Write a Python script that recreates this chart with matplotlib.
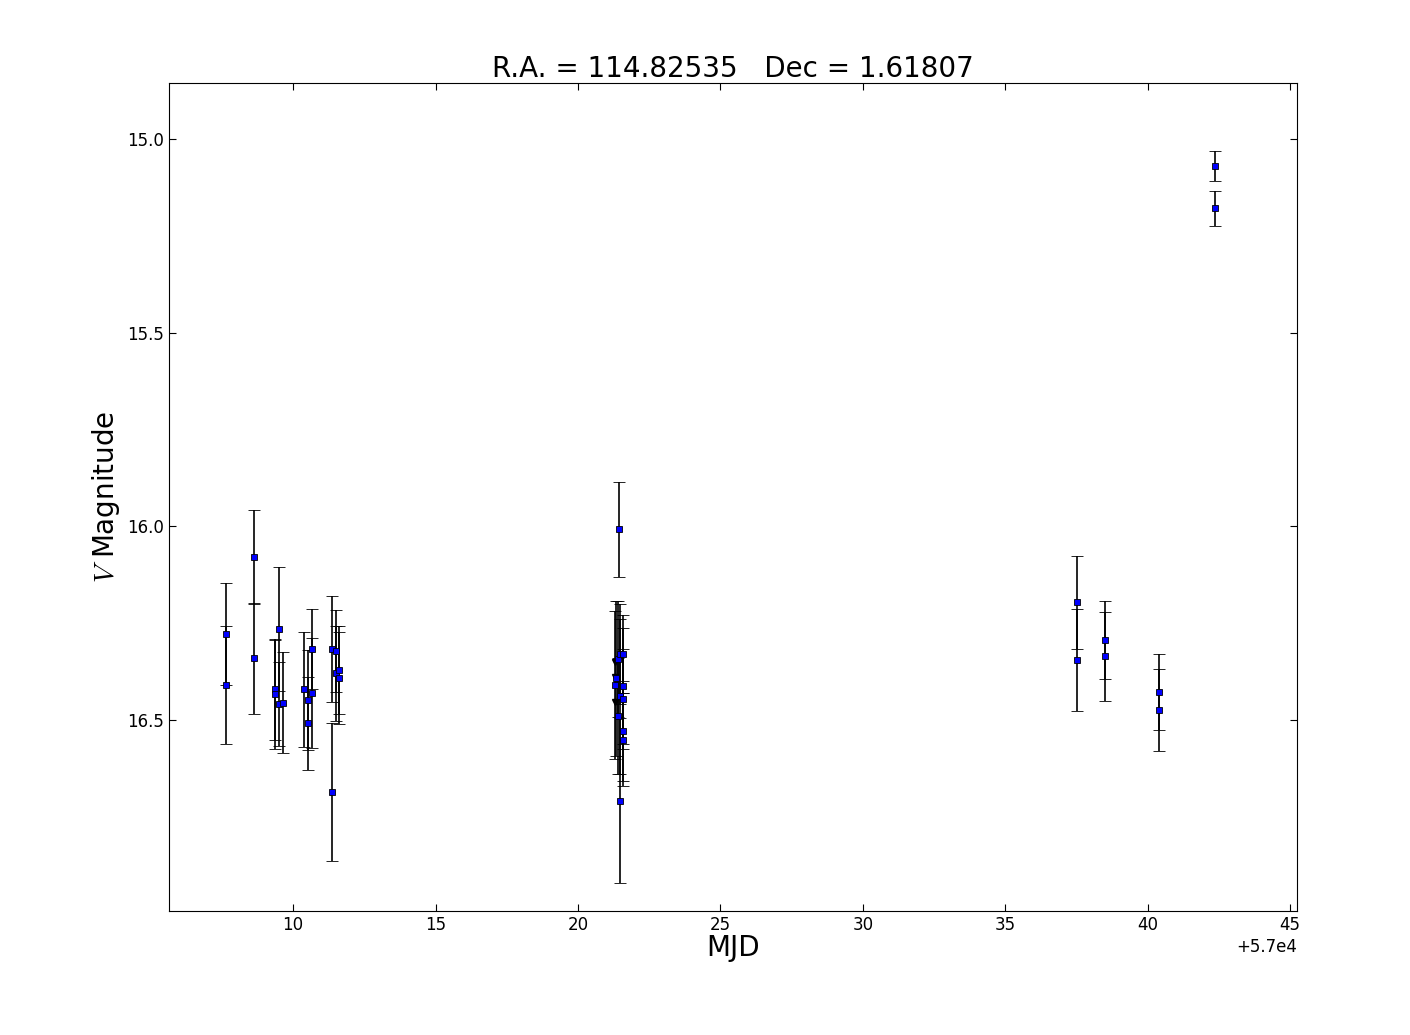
#!/usr/bin/env python3
# -*- coding: utf-8 -*-
"""V-band light curve of R.A. = 114.82535, Dec = 1.61807."""
import matplotlib; matplotlib.use("Agg")
import matplotlib.pyplot as plt

# MJD, V magnitude and error of each measurement
MJD = [57007.648, 57007.648, 57008.641, 57008.641,
       57009.379, 57009.379, 57009.519, 57009.519, 57009.659,
       57010.397, 57010.537, 57010.537, 57010.656, 57010.656,
       57011.380, 57011.380, 57011.510, 57011.510, 57011.625, 57011.625,
       57021.455, 57021.420, 57021.339, 57021.314, 57021.469, 57021.490,
       57021.595, 57021.595, 57021.595, 57021.420, 57021.595, 57021.595,
       57021.490,
       57037.533, 57037.533, 57038.516, 57038.516, 57040.411, 57040.411,
       57042.378, 57042.378]
VMAG = [16.278, 16.410, 16.080, 16.341,
        16.421, 16.434, 16.266, 16.459, 16.456,
        16.421, 16.449, 16.509, 16.317, 16.431,
        16.317, 16.687, 16.322, 16.380, 16.371, 16.392,
        16.008, 16.343, 16.392, 16.410, 16.439, 16.330,
        16.330, 16.413, 16.446, 16.490, 16.529, 16.551,
        16.709,
        16.196, 16.345, 16.294, 16.336, 16.428, 16.475,
        15.070, 15.179]
VERR = [0.132, 0.153, 0.121, 0.144,
        0.130, 0.140, 0.160, 0.108, 0.130,
        0.149, 0.130, 0.120, 0.103, 0.142,
        0.137, 0.178, 0.105, 0.123, 0.114, 0.119,
        0.123, 0.150, 0.200, 0.190, 0.200, 0.130,
        0.100, 0.150, 0.130, 0.150, 0.130, 0.120,
        0.213,
        0.120, 0.131, 0.100, 0.114, 0.098, 0.106,
        0.039, 0.045]

# limit points (drawn as carets)
LIM_MJD = [57021.284, 57021.308, 57021.314]
LIM_MAG = [16.350, 16.390, 16.455]

plt.rcParams.update({"font.family": "DejaVu Sans", "mathtext.fontset": "cm",
                     "xtick.direction": "in", "ytick.direction": "in",
                     "xtick.top": True, "ytick.right": True,
                     "xtick.major.size": 5, "ytick.major.size": 5})

fig = plt.figure(figsize=(14.1, 10.35), dpi=100)
fig.patch.set_facecolor("white")
ax = fig.add_axes([0.12, 0.12, 0.80, 0.80])

ax.errorbar(MJD, VMAG, yerr=VERR, fmt="s", color="blue", ms=4.5, mec="black",
            mew=0.6, ecolor="black", elinewidth=1.2, capsize=4, capthick=1.0)
ax.plot(LIM_MJD, LIM_MAG, "v", color="black", ms=5, ls="none")

ax.set_xlim(57005.647, 57045.25)
ax.set_ylim(16.993, 14.855)
ax.set_yticks([15.0, 15.5, 16.0, 16.5])
ax.set_xticks(range(57010, 57046, 5))
ax.ticklabel_format(axis="x", useOffset=57000)
ax.tick_params(labelsize=12)
ax.xaxis.get_offset_text().set_fontsize(12)

ax.set_xlabel("MJD", fontsize=20, labelpad=0)
ax.set_ylabel("$V$ Magnitude", fontsize=20)
ax.set_title("R.A. = 114.82535   Dec = 1.61807", fontsize=20, pad=4)

fig.savefig("out.png", facecolor="white")
